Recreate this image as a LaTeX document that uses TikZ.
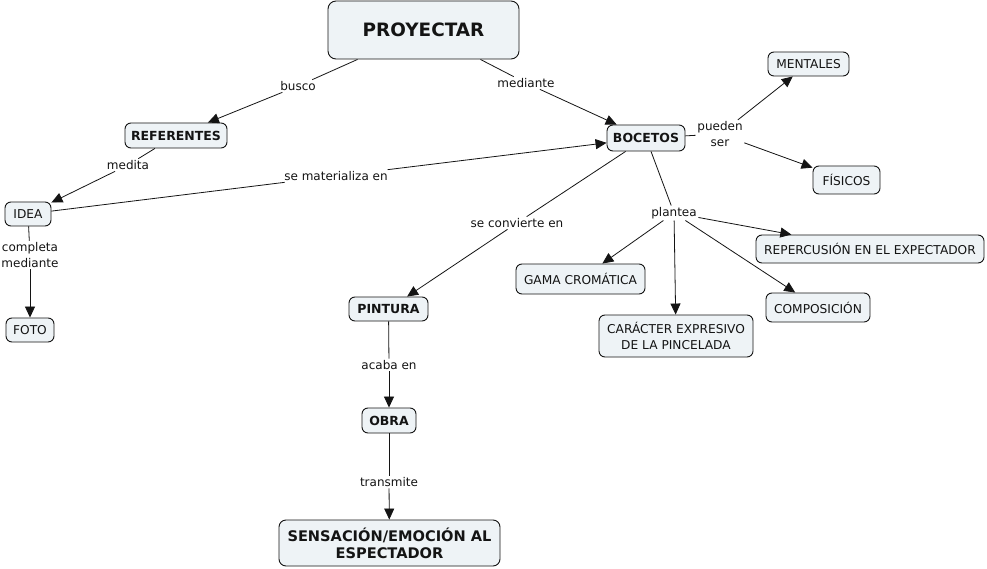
\documentclass[tikz,border=0pt]{standalone}
\usepackage{fontspec}
\setmainfont{DejaVu Sans}
\usetikzlibrary{arrows.meta}
\definecolor{nodefill}{RGB}{238,243,246}
\definecolor{inkc}{RGB}{20,20,20}
\tikzset{
 concept/.style={draw=inkc, line width=0.9pt, fill=nodefill, rounded corners=6pt, inner sep=0pt, align=center, text=inkc, font=\fontsize{12.2}{16}\selectfont},
 bconcept/.style={concept, font=\fontsize{12.5}{16}\selectfont\bfseries},
 lbl/.style={inner sep=1.5pt, align=center, text=inkc, font=\fontsize{12}{15.5}\selectfont},
 link/.style={draw=inkc, line width=0.8pt},
 arr/.style={link, -{Triangle[length=11pt,width=10pt]}},
}
\begin{document}
\begin{tikzpicture}[x=1pt,y=-1pt]
\useasboundingbox (0,0) rectangle (987,569);
\fill[white] (0,0) rectangle (987,569);
% concepts
\node[bconcept, font=\fontsize{18.4}{20}\selectfont\bfseries, minimum width=191pt, minimum height=58pt, rounded corners=8pt] (proy) at (423.5,30) {PROYECTAR};
\node[bconcept, minimum width=102pt, minimum height=25pt] (ref) at (176,135.5) {REFERENTES};
\node[bconcept, minimum width=78pt, minimum height=26pt] (boc) at (646,138) {BOCETOS};
\node[concept, minimum width=81pt, minimum height=24pt] (ment) at (808.5,64) {MENTALES};
\node[concept, minimum width=67pt, minimum height=28pt] (fis) at (846.5,180) {FÍSICOS};
\node[concept, minimum width=46pt, minimum height=24pt] (idea) at (28,214) {IDEA};
\node[concept, minimum width=48pt, minimum height=24pt] (foto) at (30,330) {FOTO};
\node[bconcept, minimum width=79pt, minimum height=24pt] (pint) at (388.5,309) {PINTURA};
\node[bconcept, minimum width=54pt, minimum height=25pt] (obra) at (389,420.5) {OBRA};
\node[bconcept, font=\fontsize{14.6}{17}\selectfont\bfseries, minimum width=221pt, minimum height=46pt, rounded corners=7pt] (sens) at (389.5,543) {SENSACIÓN/EMOCIÓN AL\\ESPECTADOR};
\node[concept, minimum width=129pt, minimum height=30pt] (gama) at (580.5,279) {GAMA CROMÁTICA};
\node[concept, minimum width=154pt, minimum height=42pt] (car) at (676,336) {CARÁCTER EXPRESIVO\\DE LA PINCELADA};
\node[concept, minimum width=228pt, minimum height=28pt] (rep) at (870,249) {REPERCUSIÓN EN EL EXPECTADOR};
\node[concept, minimum width=104pt, minimum height=29pt] (comp) at (818,307.5) {COMPOSICIÓN};
% linking phrases
\node[lbl] (busco) at (298,86) {busco};
\node[lbl] (med) at (526,83) {mediante};
\node[lbl] (medita) at (128,165) {medita};
\node[lbl] (mat) at (336,176) {se materializa en};
\node[lbl] (pued) at (720,134) {pueden\\ser};
\node[lbl] (conv) at (517,223) {se convierte en};
\node[lbl] (plan) at (674,213) {plantea};
\node[lbl] (compl) at (30,255) {completa\\mediante};
\node[lbl] (acaba) at (389,365) {acaba en};
\node[lbl] (trans) at (389,482) {transmite};
% connectors
\draw[link] (proy) -- (busco); \draw[arr] (busco) -- (ref);
\draw[link] (proy) -- (med); \draw[arr] (med) -- (boc);
\draw[link] (ref) -- (medita); \draw[arr] (medita) -- (idea);
\draw[link] (idea) -- (mat); \draw[arr] (mat) -- (boc);
\draw[link] (boc) -- (pued); \draw[arr] (pued) -- (ment); \draw[arr] (pued) -- (fis);
\draw[link] (boc) -- (conv); \draw[arr] (conv) -- (pint);
\draw[link] (boc) -- (plan);
\draw[arr] (plan) -- (gama); \draw[arr] (plan) -- (car); \draw[arr] (plan) -- (rep); \draw[arr] (plan) -- (comp);
\draw[link] (idea) -- (compl); \draw[arr] (compl) -- (foto);
\draw[link] (pint) -- (acaba); \draw[arr] (acaba) -- (obra);
\draw[link] (obra) -- (trans); \draw[arr] (trans) -- (sens);
\end{tikzpicture}
\end{document}
